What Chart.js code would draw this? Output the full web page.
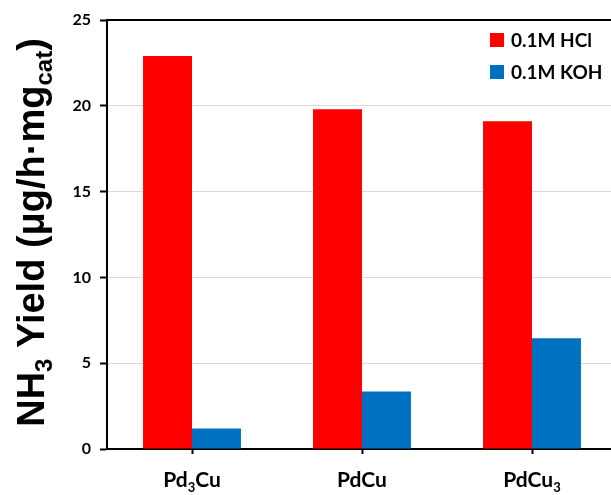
<!DOCTYPE html>
<html>
<head>
<meta charset="utf-8">
<script src="https://cdn.jsdelivr.net/npm/chart.js@4"></script>
<style>
  html, body { margin: 0; padding: 0; background: #fff; overflow: hidden; }
  canvas { display: block; }
</style>
</head>
<body>
<canvas id="chart" width="630" height="495"></canvas>
<script>
// catalysts, "_x" / "_{..}" marks a subscript
const categories = ['Pd_3Cu', 'PdCu', 'PdCu_3'];
const hclValues = [22.9, 19.8, 19.1];
const kohValues = [1.2, 3.35, 6.45];
const seriesNames = ['0.1M HCl', '0.1M KOH'];
const yTicks = [0, 5, 10, 15, 20, 25];
const yTitle = 'NH_3 Yield (\u03bcg/h\u00b7mg_{cat})';

const FONT = 'Lato, "Liberation Sans", sans-serif';
const TITLE_FONT = '"Liberation Sans", Arial, sans-serif';

// split "NH_3 ..." into plain / subscript runs
function parseRich(str) {
  let parts = [];
  let buf = '';
  for (let i = 0; i < str.length; i++) {
    if (str[i] === '_') {
      if (buf) parts.push({text: buf, sub: false});
      buf = '';
      if (str[i + 1] === '{') {
        let end = str.indexOf('}', i);
        parts.push({text: str.slice(i + 2, end), sub: true});
        i = end;
      } else {
        parts.push({text: str[i + 1], sub: true});
        i++;
      }
    } else {
      buf += str[i];
    }
  }
  if (buf) parts.push({text: buf, sub: false});
  return parts;
}

function richWidth(ctx, parts, size, family, subScale) {
  let w = 0;
  parts.forEach(p => {
    ctx.font = `bold ${p.sub ? Math.round(size * subScale) : size}px ${family}`;
    w += ctx.measureText(p.text).width;
  });
  return w;
}

// draws runs on the baseline, starting at x
function drawRich(ctx, parts, x, y, size, family, subScale, subDrop) {
  ctx.textBaseline = 'alphabetic';
  ctx.textAlign = 'left';
  parts.forEach(p => {
    let s = p.sub ? Math.round(size * subScale) : size;
    ctx.font = `bold ${s}px ${family}`;
    ctx.fillText(p.text, x, p.sub ? y + size * subDrop : y);
    x += ctx.measureText(p.text).width;
  });
}

const richLabels = {
  id: 'richLabels',
  afterDraw(chart) {
    const ctx = chart.ctx;
    const area = chart.chartArea;
    const xs = chart.scales.x;
    ctx.save();
    ctx.fillStyle = '#000';

    // category labels under the x axis
    categories.forEach((c, i) => {
      let parts = parseRich(c);
      let w = richWidth(ctx, parts, 21, FONT, 0.62);
      let cx = xs.getPixelForValue(i);
      drawRich(ctx, parts, cx - w / 2, area.bottom + 38, 21, FONT, 0.62, 0.22);
    });

    // rotated y axis title
    let tparts = parseRich(yTitle);
    let tsize = 38;
    let tw = richWidth(ctx, tparts, tsize, TITLE_FONT, 0.62);
    ctx.translate(44, (area.top + area.bottom) / 2 - 2);
    ctx.rotate(-Math.PI / 2);
    drawRich(ctx, tparts, -tw / 2, 0, tsize, TITLE_FONT, 0.62, 0.22);
    ctx.restore();

    // legend in the upper right of the plot
    ctx.save();
    chart.data.datasets.forEach((ds, i) => {
      let cy = area.top + 20 + i * 32;
      let bx = area.right - 127;
      ctx.fillStyle = ds.backgroundColor;
      ctx.fillRect(bx, cy - 7, 14, 14);
      ctx.fillStyle = '#000';
      ctx.font = `bold 19px ${FONT}`;
      ctx.textBaseline = 'middle';
      ctx.textAlign = 'left';
      ctx.fillText(ds.label, bx + 21, cy + 1);
    });
    ctx.restore();
  }
};

new Chart(document.getElementById('chart'), {
  type: 'bar',
  data: {
    labels: categories,
    datasets: [
      {label: seriesNames[0], data: hclValues, backgroundColor: '#ff0000'},
      {label: seriesNames[1], data: kohValues, backgroundColor: '#0070c0'}
    ]
  },
  options: {
    responsive: false,
    animation: false,
    layout: {padding: {top: 20, right: 13, left: 0, bottom: 0}},
    datasets: {bar: {categoryPercentage: 0.576, barPercentage: 1.0}},
    plugins: {legend: {display: false}, tooltip: {enabled: false}},
    scales: {
      x: {
        grid: {drawOnChartArea: false, offset: false, tickLength: 5, tickColor: '#000', tickWidth: 2},
        border: {color: '#000', width: 2},
        ticks: {display: false},
        afterFit: s => { s.height = 46; }
      },
      xTop: {
        position: 'top',
        grid: {drawOnChartArea: false, drawTicks: false},
        border: {color: '#000', width: 2},
        ticks: {display: false},
        afterFit: s => { s.height = 0; }
      },
      y: {
        min: yTicks[0],
        max: yTicks[yTicks.length - 1],
        afterBuildTicks: s => { s.ticks = yTicks.map(v => ({value: v})); },
        grid: {color: '#d9d9d9', lineWidth: 1, tickLength: 7, tickColor: '#000', tickWidth: 2},
        border: {color: '#000', width: 2},
        ticks: {color: '#000', padding: 9, font: {family: FONT, weight: 'bold', size: 16}},
        afterFit: s => { s.width = 107; }
      }
    }
  },
  plugins: [richLabels]
});
</script>
</body>
</html>
